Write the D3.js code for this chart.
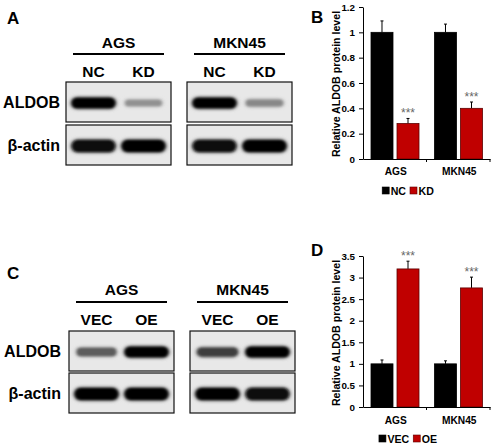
<!DOCTYPE html>
<html><head><meta charset="utf-8">
<script src="https://cdn.jsdelivr.net/npm/d3@7"></script>
<style>body{margin:0;background:#fff}svg{display:block}</style>
</head><body><svg id="c" width="492" height="446"></svg>
<script>
// ---------- data ----------
const cellLines = ["AGS", "MKN45"];
const kdGroups = ["NC", "KD"];
const oeGroups = ["VEC", "OE"];
const blotRows = ["ALDOB", "β-actin"];
// band darkness (0..1) per cell line, per lane
const kdBandALDOB = [[1.0, 0.38], [1.0, 0.42]];
const kdBandActin = [[0.95, 1.0], [0.95, 1.0]];
const oeBandALDOB = [[0.62, 1.0], [0.75, 1.0]];
const oeBandActin = [[1.0, 1.0], [1.0, 0.95]];
// quantification
const kdNC = [1.0, 1.0];
const kdKD = [0.28, 0.40];
const kdNCErr = [0.09, 0.065];
const kdKDErr = [0.04, 0.05];
const oeVEC = [1.0, 1.0];
const oeOE = [3.2, 2.76];
const oeVECErr = [0.09, 0.07];
const oeOEErr = [0.18, 0.25];
const kdTicks = [0, 0.2, 0.4, 0.6, 0.8, 1, 1.2];
const oeTicks = [0, 0.5, 1, 1.5, 2, 2.5, 3, 3.5];
const yTitle = "Relative ALDOB protein level";
const sigLabel = "***";

// ---------- drawing ----------
const svg = d3.select("#c");
svg.append("rect").attr("width", 492).attr("height", 446).attr("fill", "#fff");
const FONT = "'Liberation Sans', Arial, Helvetica, sans-serif";
const defs = svg.append("defs");
defs.append("filter").attr("id", "blur").attr("x", "-30%").attr("y", "-100%").attr("width", "160%").attr("height", "300%")
  .append("feGaussianBlur").attr("stdDeviation", "1.4 1.1");
defs.append("filter").attr("id", "blur2").attr("x", "-30%").attr("y", "-100%").attr("width", "160%").attr("height", "300%")
  .append("feGaussianBlur").attr("stdDeviation", "2.2 1.8");

function letter(t, x, y) {
  svg.append("text").attr("x", x).attr("y", y).text(t)
    .attr("font-family", FONT).attr("font-weight", "bold").attr("font-size", 17);
}

const shade = d3.scaleLinear().domain([0, 1]).range(["#e6e6e6", "#050505"]);

function drawBlot(opts) {
  const g = svg.append("g");
  const { boxX, boxW, headY, lineY, laneY, rowTops, rowH, groups, bands } = opts;
  cellLines.forEach((cl, ci) => {
    const x0 = boxX[ci];
    const lane = d3.scalePoint().domain(groups).range([x0, x0 + boxW]).padding(0.55);
    g.append("text").attr("x", x0 + boxW / 2).attr("y", headY).text(cl)
      .attr("text-anchor", "middle").attr("font-family", FONT).attr("font-weight", "bold").attr("font-size", 15.5);
    g.append("line").attr("x1", x0 + 7).attr("x2", x0 + boxW - 7).attr("y1", lineY).attr("y2", lineY)
      .attr("stroke", "#000").attr("stroke-width", 1.8);
    groups.forEach(gr => {
      g.append("text").attr("x", lane(gr)).attr("y", laneY).text(gr)
        .attr("text-anchor", "middle").attr("font-family", FONT).attr("font-weight", "bold").attr("font-size", 15.5);
    });
    blotRows.forEach((row, ri) => {
      const top = rowTops[ri];
      g.append("rect").attr("x", x0).attr("y", top).attr("width", boxW).attr("height", rowH)
        .attr("fill", "#e8e8e8").attr("stroke", "#111").attr("stroke-width", 1.2);
      const cy = top + rowH / 2 + 1;
      groups.forEach((gr, li) => {
        const d = bands[ri][ci][li];
        const w = ri === 0 ? 32 + 12 * d : 38 + 6 * d;
        const h = ri === 0 ? 3.5 + 7 * d : 8.5 + 3.5 * d;
        const cx = lane(gr);
        g.append("rect").attr("x", cx - w / 2 - 1).attr("y", cy - h / 2 - 1.5).attr("width", w + 2).attr("height", h + 3)
          .attr("rx", (h + 3) / 2).attr("fill", shade(d * 0.45)).attr("filter", "url(#blur2)");
        g.append("rect").attr("x", cx - w / 2).attr("y", cy - h / 2).attr("width", w).attr("height", h)
          .attr("rx", h / 2).attr("fill", shade(d)).attr("filter", "url(#blur)");
      });
    });
  });
  blotRows.forEach((row, ri) => {
    g.append("text").attr("x", opts.labelX).attr("y", rowTops[ri] + rowH / 2 + 6).text(row)
      .attr("text-anchor", "end").attr("font-family", FONT).attr("font-weight", "bold").attr("font-size", 16);
  });
}

letter("A", 7, 24);
drawBlot({
  boxX: [66, 187], boxW: 105, headY: 48, lineY: 54, laneY: 77,
  rowTops: [82, 125], rowH: 40, groups: kdGroups, labelX: 60,
  bands: [kdBandALDOB, kdBandActin]
});
letter("C", 7, 279);
drawBlot({
  boxX: [69, 190], boxW: 105, headY: 295, lineY: 302, laneY: 325,
  rowTops: [331, 373], rowH: 40, groups: oeGroups, labelX: 61,
  bands: [oeBandALDOB, oeBandActin]
});

function drawBars(opts) {
  const { y0, y1, ticks, groups, a, b, aErr, bErr, legendY, labelY, titleY } = opts;
  const g = svg.append("g");
  const left = 363, right = 490;
  const x = d3.scaleBand().domain(cellLines).range([left, right]);
  const xi = d3.scaleBand().domain(groups).range([8, 56]).paddingInner(0.154);
  const y = d3.scaleLinear().domain([0, ticks[ticks.length - 1]]).range([y0, y1]);
  const colors = { [groups[0]]: "#000", [groups[1]]: "#c00000" };
  const strokes = { [groups[0]]: "#000", [groups[1]]: "#5c0000" };
  const series = [a, b], errs = [aErr, bErr];
  cellLines.forEach((cl, ci) => {
    groups.forEach((gr, gi) => {
      const v = series[gi][ci], e = errs[gi][ci];
      const bx = x(cl) + xi(gr), bw = xi.bandwidth();
      const cx = bx + bw / 2;
      g.append("line").attr("x1", cx).attr("x2", cx).attr("y1", y(v)).attr("y2", y(v + e))
        .attr("stroke", "#000").attr("stroke-width", 1);
      g.append("line").attr("x1", cx - 1.5).attr("x2", cx + 1.5).attr("y1", y(v + e)).attr("y2", y(v + e))
        .attr("stroke", "#000").attr("stroke-width", 1);
      g.append("rect").attr("x", bx).attr("y", y(v)).attr("width", bw).attr("height", y(0) - y(v))
        .attr("fill", colors[gr]).attr("stroke", strokes[gr]).attr("stroke-width", 0.8);
      if (gi === 1) {
        g.append("text").attr("x", cx).attr("y", y(v + e) - 1).text(sigLabel)
          .attr("text-anchor", "middle").attr("font-family", FONT).attr("font-size", 12).attr("fill", "#666");
      }
    });
  });
  const ya = g.append("g").attr("transform", `translate(${left},0)`)
    .call(d3.axisLeft(y).tickValues(ticks).tickSize(4).tickSizeOuter(0).tickFormat(d => String(d)));
  ya.select(".domain").attr("stroke", "#000");
  ya.selectAll("text").attr("font-family", FONT).attr("font-weight", "bold").attr("font-size", 9.8).attr("fill", "#000").attr("dx", -1);
  const xa = g.append("g").attr("transform", `translate(0,${y0})`)
    .call(d3.axisBottom(x).tickSize(0).tickSizeOuter(0).tickFormat(""));
  xa.select(".domain").attr("stroke", "#000");
  [x(cellLines[1]), right].forEach(px => {
    g.append("line").attr("x1", px).attr("x2", px).attr("y1", y0).attr("y2", y0 + 3).attr("stroke", "#000");
  });
  cellLines.forEach(cl => {
    g.append("text").attr("x", x(cl) + x.bandwidth() / 2 + 1).attr("y", labelY).text(cl)
      .attr("text-anchor", "middle").attr("font-family", FONT).attr("font-weight", "bold").attr("font-size", 10.2);
  });
  g.append("text").attr("transform", `translate(340,${titleY}) rotate(-90)`).text(yTitle)
    .attr("text-anchor", "middle").attr("font-family", FONT).attr("font-weight", "bold").attr("font-size", 10.6);
  const lg = g.append("g");
  let cx = 0;
  groups.forEach(gr => {
    lg.append("rect").attr("x", cx).attr("y", -7.5).attr("width", 7).attr("height", 7)
      .attr("fill", colors[gr]).attr("stroke", strokes[gr]).attr("stroke-width", 0.6);
    const t = lg.append("text").attr("x", cx + 8.5).attr("y", 0).text(gr)
      .attr("font-family", FONT).attr("font-weight", "bold").attr("font-size", 10.6);
    cx += 8.5 + t.node().getComputedTextLength() + 4;
  });
  const lw = cx - 4;
  lg.attr("transform", `translate(${408 - lw / 2},${legendY})`);
}

letter("B", 311, 23);
drawBars({ y0: 159, y1: 7, ticks: kdTicks, groups: kdGroups, a: kdNC, b: kdKD, aErr: kdNCErr, bErr: kdKDErr,
  legendY: 194.5, labelY: 175, titleY: 84 });
letter("D", 311, 256);
drawBars({ y0: 407, y1: 256, ticks: oeTicks, groups: oeGroups, a: oeVEC, b: oeOE, aErr: oeVECErr, bErr: oeOEErr,
  legendY: 442.5, labelY: 424, titleY: 333 });
</script></body></html>
